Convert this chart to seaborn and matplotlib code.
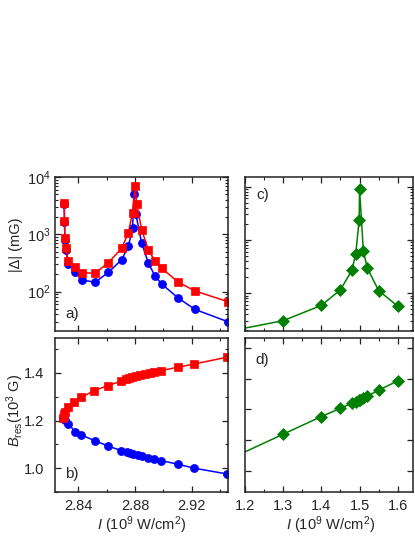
import numpy as np
import pandas as pd
import seaborn as sns
import matplotlib.pyplot as plt
from matplotlib.ticker import MultipleLocator, NullFormatter, LogLocator

# panel a) |Delta| vs intensity (red squares / blue circles)
a_red_x = [2.8300, 2.8302, 2.8305, 2.8311, 2.8329, 2.8377, 2.8424, 2.8518, 2.8612, 2.8706, 2.8753,
           2.8782, 2.8800, 2.8812, 2.8847, 2.8894, 2.8941, 2.8988, 2.9106, 2.9223, 2.9454]
a_red_y = [3575, 1734, 855, 572, 343, 273, 214, 210, 321, 572, 1072,
           2390, 6900, 3350, 1194, 535, 343, 256, 146, 103, 67]
a_blue_x = [2.8300, 2.8302, 2.8305, 2.8311, 2.8329, 2.8377, 2.8424, 2.8518, 2.8612, 2.8706, 2.8753,
            2.8783, 2.8792, 2.8805, 2.8847, 2.8894, 2.8941, 2.8988, 2.9106, 2.9223, 2.9454]
a_blue_y = [3400, 1650, 800, 533, 308, 217, 160, 146, 217, 362, 627,
            1276, 5000, 2300, 700, 314, 188, 136, 77, 49, 30]

# panel b) B_res vs intensity
b_red_x = [2.8290, 2.8295, 2.8300, 2.8306, 2.8329, 2.8372, 2.8419, 2.8513, 2.8607, 2.8701, 2.8734,
           2.8758, 2.8781, 2.8805, 2.8835, 2.8871, 2.8906, 2.8936, 2.8983, 2.9101, 2.9218, 2.9447]
b_red_y = [1.210, 1.218, 1.226, 1.236, 1.259, 1.279, 1.298, 1.326, 1.347, 1.365, 1.373,
           1.378, 1.382, 1.386, 1.390, 1.396, 1.401, 1.405, 1.410, 1.424, 1.438, 1.466]
b_blue_x = [2.8292, 2.8298, 2.8306, 2.8329, 2.8377, 2.8419, 2.8518, 2.8607, 2.8701, 2.8741, 2.8765,
            2.8788, 2.8819, 2.8847, 2.8890, 2.8936, 2.8983, 2.9101, 2.9218, 2.9447]
b_blue_y = [1.212, 1.208, 1.203, 1.186, 1.154, 1.140, 1.115, 1.094, 1.074, 1.067, 1.063,
            1.059, 1.055, 1.052, 1.044, 1.038, 1.032, 1.017, 1.000, 0.976]

# panels c) and d) green diamonds
g_x = [1.10, 1.30, 1.40, 1.45, 1.48, 1.49, 1.499, 1.50, 1.51, 1.52, 1.55, 1.60]
c_y = [1.6, 3.05, 5.9, 11.6, 26.8, 55, 235, 905, 62, 30, 11.2, 5.7]
d_y = [1.004, 1.1195, 1.177, 1.204, 1.2205, 1.226, 1.231, 1.232, 1.238, 1.243, 1.263, 1.293]

sns.set_style('ticks')
plt.rcParams['font.family'] = ['Liberation Sans', 'DejaVu Sans']
plt.rcParams['mathtext.fontset'] = 'custom'
plt.rcParams['mathtext.rm'] = 'Liberation Sans'
plt.rcParams['mathtext.it'] = 'Liberation Sans:italic'
plt.rcParams['font.size'] = 10.5

fig = plt.figure(figsize=(4.15, 5.37), dpi=100)
W, H = 415, 537
def box(x0, x1, y0, y1):
    return [x0 / W, 1 - y1 / H, (x1 - x0) / W, (y1 - y0) / H]

axa = fig.add_axes(box(55, 228, 177, 331))
axb = fig.add_axes(box(55, 228, 338, 492))
axc = fig.add_axes(box(245, 413, 177, 331))
axd = fig.add_axes(box(245, 413, 338, 492))

def series(ax, x, y, color, marker, ms):
    sns.lineplot(x=x, y=y, ax=ax, color=color, marker=marker, markersize=ms,
                 markeredgecolor=color, markeredgewidth=0.5, linewidth=1.1,
                 estimator=None, sort=False)

series(axa, a_blue_x, a_blue_y, 'blue', 'o', 5.8)
series(axa, a_red_x, a_red_y, 'red', 's', 5.6)
series(axb, b_blue_x, b_blue_y, 'blue', 'o', 5.8)
series(axb, b_red_x, b_red_y, 'red', 's', 5.6)
series(axc, g_x, c_y, 'green', 'D', 5.8)
series(axd, g_x, d_y, 'green', 'D', 5.8)

for ax in [axa, axc]:
    ax.set_yscale('log')
    ax.yaxis.set_minor_formatter(NullFormatter())
    ax.yaxis.set_minor_locator(LogLocator(base=10, subs=np.arange(2, 10)))

axa.set_xlim(2.8235, 2.9456)
axb.set_xlim(2.8235, 2.9456)
axa.set_ylim(20.6, 1e4)
axb.set_ylim(0.90, 1.547)
axc.set_xlim(1.2, 1.64)
axd.set_xlim(1.2, 1.64)
axc.set_ylim(1.95, 1515)
axd.set_ylim(0.931, 1.433)

for ax in [axa, axb]:
    ax.xaxis.set_major_locator(MultipleLocator(0.04))
    ax.xaxis.set_minor_locator(MultipleLocator(0.02))
for ax in [axc, axd]:
    ax.xaxis.set_major_locator(MultipleLocator(0.1))
    ax.xaxis.set_minor_locator(MultipleLocator(0.05))
axb.yaxis.set_major_locator(MultipleLocator(0.2))
axb.yaxis.set_minor_locator(MultipleLocator(0.1))
axd.yaxis.set_major_locator(MultipleLocator(0.1))

for ax in [axa, axb, axc, axd]:
    ax.tick_params(which='both', direction='in', top=True, right=True, color='#222222')
    ax.tick_params(which='major', length=4, width=0.9)
    ax.tick_params(which='minor', length=2.5, width=0.8)
    ax.tick_params(axis='x', pad=5)
    for s in ax.spines.values():
        s.set_linewidth(1.1)
        s.set_color('#222222')
    ax.set_xlabel('')
    ax.set_ylabel('')

axa.tick_params(axis='y', pad=3)
axb.tick_params(axis='y', pad=7.5)
axa.tick_params(labelbottom=False)
axc.tick_params(labelbottom=False, labelleft=False)
axd.tick_params(labelleft=False)
axb.set_xticks([2.84, 2.88, 2.92])
axb.set_xticklabels(['2.84', '2.88', '2.92'])

axa.set_ylabel('|Δ| (mG)', va='center')
axa.yaxis.set_label_coords(-0.225, 0.56)
axb.set_ylabel(r'$\mathit{B}_{\rm res}$(10$^{3}$ G)', va='center')
axb.yaxis.set_label_coords(-0.23, 0.53)
for ax in [axb, axd]:
    ax.set_xlabel(r'$\mathit{I}$ (10$^{9}$ W/cm$^{2}$)', va='center')
    ax.xaxis.set_label_coords(0.5, -0.215)
axd.xaxis.set_label_coords(0.51, -0.215)

axa.text(0.06, 0.11, 'a)', transform=axa.transAxes, va='center', fontsize=11)
axb.text(0.06, 0.117, 'b)', transform=axb.transAxes, va='center', fontsize=11)
axc.text(0.07, 0.883, 'c)', transform=axc.transAxes, va='center', fontsize=11)
axd.text(0.06, 0.857, 'd)', transform=axd.transAxes, va='center', fontsize=11)

fig.savefig('out.png', dpi=100)
